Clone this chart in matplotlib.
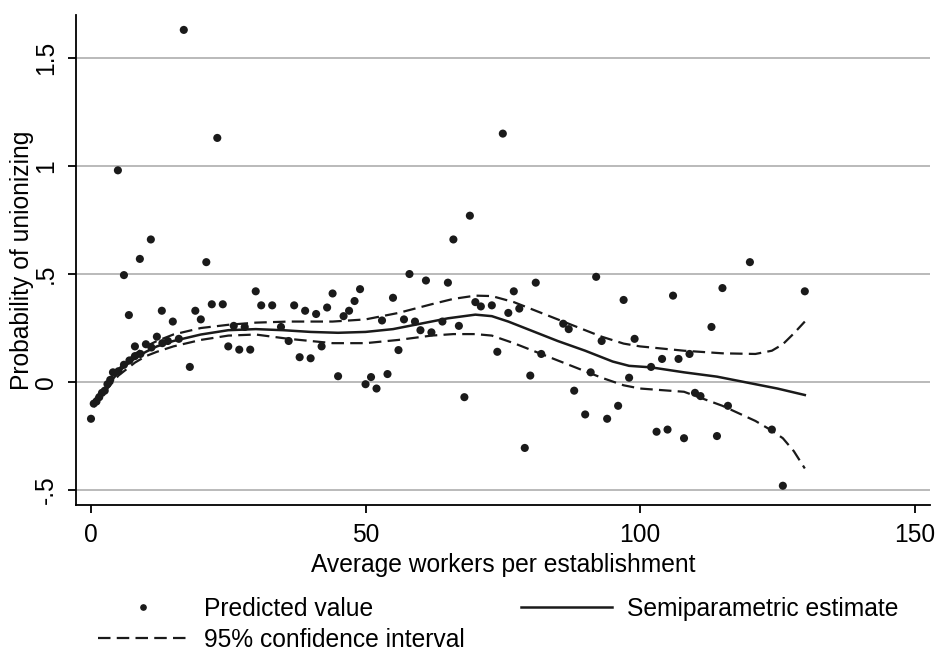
import matplotlib
matplotlib.use("Agg")
import matplotlib.pyplot as plt
from matplotlib.lines import Line2D

plt.rcParams['font.family'] = ['Liberation Sans', 'DejaVu Sans']
plt.rcParams['lines.scale_dashes'] = False

# ------ predicted values (scatter) ------
pred_x = [0, 0.5, 1, 1.5, 2, 2.5, 3, 3.5, 4, 5, 6, 7, 8, 9, 11, 13, 14, 16,
          4.9, 6.0, 6.9, 8.0, 8.9, 10.0, 10.9, 12.0, 12.9, 14.9, 16.9, 18.0,
          19.0, 20.0, 21.0, 22.0, 23.0, 24.0, 25.0, 26.0, 27.0, 28.0, 29.0,
          30.0, 31.0, 33.0, 34.6, 36.0, 37.0, 38.0, 39.0, 40.0, 41.0, 42.0,
          43.0, 44.0, 45.0, 46.0, 47.0, 48.0, 49.0, 50.0, 51.0, 52.0, 53.0,
          54.0, 55.0, 56.0, 57.0, 58.0, 59.0, 60.0, 61.0, 62.0, 64.0, 65.0,
          66.0, 67.0, 68.0, 69.0, 70.0, 71.0, 73.0, 74.0, 75.0, 76.0, 77.0,
          78.0, 79.0, 80.0, 81.0, 82.0, 86.0, 87.0, 88.0, 90.0, 91.0, 92.0,
          93.0, 94.0, 96.0, 97.0, 98.0, 99.0, 102.0, 103.0, 104.0, 105.0,
          106.0, 107.0, 108.0, 109.0, 110.0, 111.0, 113.0, 114.0, 115.0,
          116.0, 120.0, 124.0, 126.0, 130.0]
pred_y = [-0.17, -0.10, -0.09, -0.07, -0.05, -0.04, -0.01, 0.01, 0.045, 0.05,
          0.08, 0.10, 0.12, 0.13, 0.16, 0.18, 0.19, 0.20,
          0.98, 0.495, 0.31, 0.165, 0.57, 0.175, 0.66, 0.21, 0.33, 0.28, 1.63,
          0.07, 0.33, 0.29, 0.555, 0.36, 1.13, 0.36, 0.165, 0.26, 0.15, 0.255,
          0.15, 0.42, 0.355, 0.355, 0.255, 0.19, 0.355, 0.115, 0.33, 0.11,
          0.315, 0.165, 0.345, 0.41, 0.027, 0.305, 0.33, 0.375, 0.43, -0.01,
          0.023, -0.03, 0.285, 0.037, 0.39, 0.148, 0.29, 0.50, 0.28, 0.24,
          0.47, 0.23, 0.28, 0.46, 0.66, 0.26, -0.07, 0.77, 0.37, 0.35, 0.355,
          0.14, 1.15, 0.32, 0.42, 0.34, -0.305, 0.03, 0.46, 0.13, 0.27, 0.245,
          -0.04, -0.15, 0.045, 0.487, 0.19, -0.17, -0.11, 0.38, 0.02, 0.20,
          0.07, -0.23, 0.107, -0.22, 0.40, 0.107, -0.26, 0.13, -0.05, -0.065,
          0.255, -0.25, 0.435, -0.11, 0.555, -0.22, -0.48, 0.42]

# ------ semiparametric estimate and 95% CI ------
est_x = [0.5, 1, 2, 3, 4, 5, 6, 8, 10, 12, 15, 20, 25, 30, 35, 40, 45, 50,
         55, 60, 65, 70, 73, 76, 80, 85, 90, 95, 98, 102, 108, 114, 120, 125,
         130]
est_y = [-0.10, -0.085, -0.05, -0.015, 0.015, 0.045, 0.07, 0.11, 0.14, 0.165,
         0.19, 0.22, 0.24, 0.245, 0.24, 0.232, 0.228, 0.232, 0.245, 0.27,
         0.295, 0.312, 0.305, 0.28, 0.24, 0.19, 0.145, 0.095, 0.075, 0.068,
         0.045, 0.025, -0.005, -0.03, -0.06]

ci_x = [0.5, 1, 2, 3, 5, 8, 10, 12, 15, 20, 25, 30, 36, 44, 50, 56, 62, 66,
        70, 73, 77, 80, 84, 90, 93, 97, 100, 108, 115, 121, 124, 126, 128, 130]
ci_hi = [-0.085, -0.07, -0.035, 0.0, 0.06, 0.13, 0.165, 0.19, 0.22, 0.25,
         0.265, 0.275, 0.28, 0.28, 0.29, 0.32, 0.36, 0.385, 0.40, 0.398, 0.37,
         0.34, 0.30, 0.24, 0.21, 0.178, 0.165, 0.145, 0.133, 0.13, 0.145,
         0.175, 0.225, 0.28]
ci_lo = [-0.115, -0.10, -0.065, -0.03, 0.03, 0.09, 0.12, 0.14, 0.165, 0.195,
         0.215, 0.22, 0.20, 0.18, 0.18, 0.195, 0.215, 0.222, 0.222, 0.215,
         0.18, 0.15, 0.11, 0.05, 0.02, -0.015, -0.03, -0.045, -0.11, -0.18,
         -0.225, -0.26, -0.32, -0.40]

yticks = [-0.5, 0, 0.5, 1, 1.5]
ytick_labels = ['-.5', '0', '.5', '1', '1.5']
xticks = [0, 50, 100, 150]

fs = 17.7
ink = '#1a1a1a'

fig = plt.figure(figsize=(9.36, 6.52), dpi=100)
ax = fig.add_axes([0.0812, 0.2255, 0.9124, 0.7515])

for yv in yticks:
    ax.axhline(yv, color='#b4b4b4', lw=1.3, zorder=0)

ax.scatter(pred_x, pred_y, s=34, color=ink, edgecolors='none', zorder=3)
ax.plot(est_x, est_y, color=ink, lw=1.8, zorder=2)
ax.plot(ci_x, ci_hi, color=ink, lw=1.6, dashes=[9, 4.5], zorder=2)
ax.plot(ci_x, ci_lo, color=ink, lw=1.6, dashes=[9, 4.5], zorder=2)

ax.set_xlim(-2.73, 152.8)
ax.set_ylim(-0.569, 1.699)
ax.set_xticks(xticks)
ax.set_yticks(yticks)
ax.set_yticklabels(ytick_labels, rotation=90, va='center')
ax.spines['top'].set_visible(False)
ax.spines['right'].set_visible(False)
for s in ['left', 'bottom']:
    ax.spines[s].set_linewidth(1.3)
ax.tick_params(direction='out', length=6, width=1.3, labelsize=fs, pad=7)

ax.set_xlabel('Average workers per establishment', fontsize=fs, labelpad=4)
ax.set_ylabel('Probability of unionizing', fontsize=fs, labelpad=0)

handles = [
    Line2D([], [], ls='none', marker='o', ms=3.8, color=ink),
    Line2D([], [], color=ink, lw=1.6, dashes=[9, 4.5]),
    Line2D([], [], color=ink, lw=1.8),
]
labels = ['Predicted value', '95% confidence interval', 'Semiparametric estimate']
fig.legend(handles, labels, ncol=2, loc='upper left',
           bbox_to_anchor=(0.1047, 0.085), frameon=False, fontsize=fs,
           borderpad=0, borderaxespad=0, handlelength=3.7, handletextpad=0.6,
           columnspacing=2.3, labelspacing=0.3)

fig.savefig('out.png', dpi=100)
